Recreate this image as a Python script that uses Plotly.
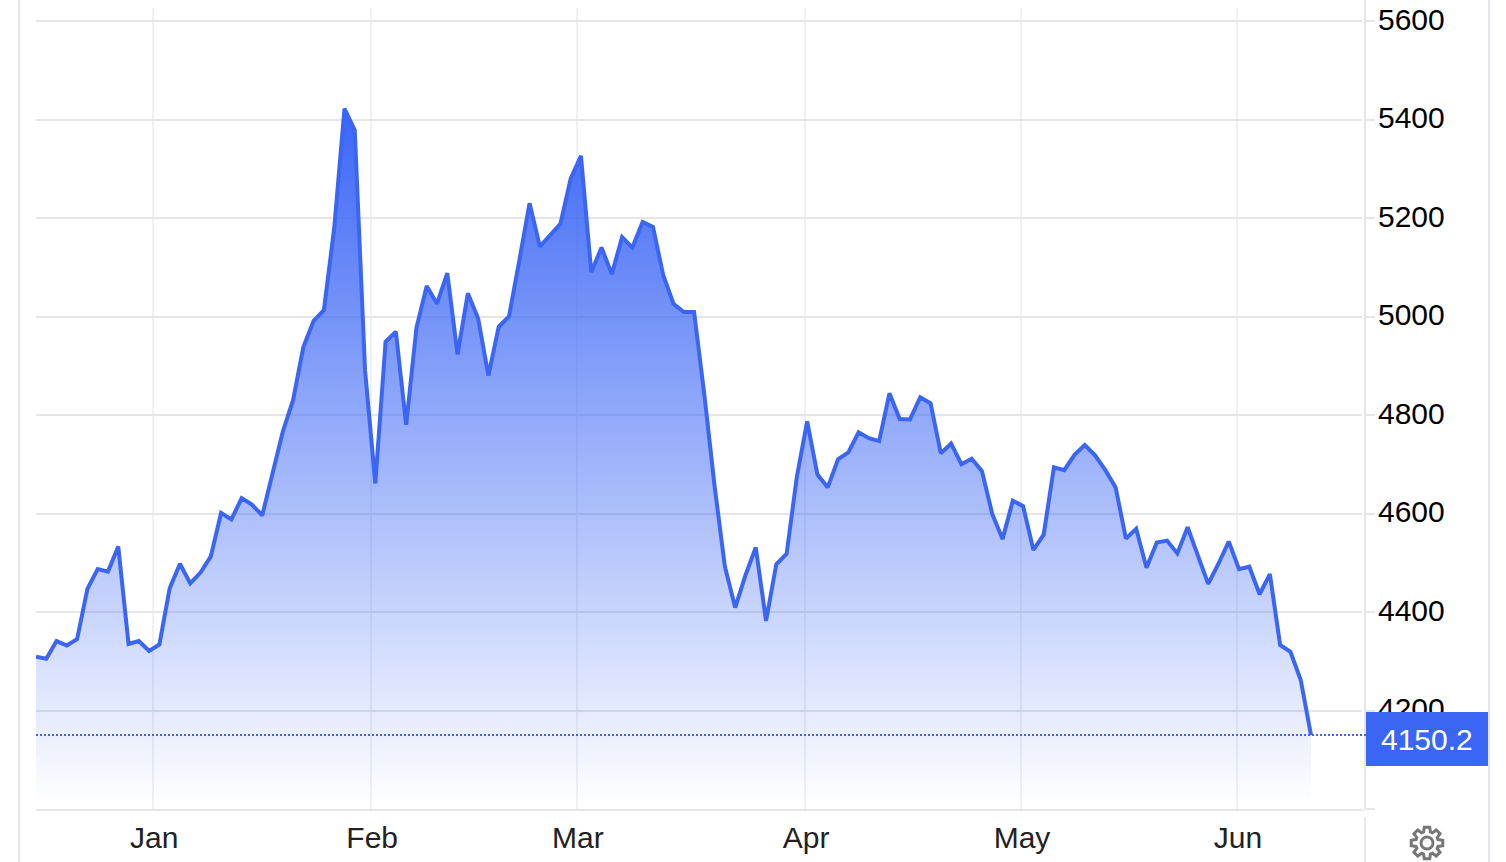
"""
plot.py
Area chart of a daily price series with a last-value tag on the right axis.
"""
import numpy as np
import plotly.graph_objects as go

WIDTH, HEIGHT = 1506, 862
LEFT, RIGHT, TOP, BOTTOM = 36, 1365, 8, 809

# ========== Data ==========
values = [
    4309, 4305, 4341, 4332, 4345, 4447, 4487, 4482, 4533, 4335,
    4341, 4321, 4334, 4448, 4498, 4458, 4480, 4513, 4601, 4588,
    4631, 4618, 4596, 4680, 4766, 4830, 4938, 4991, 5013, 5179,
    5422, 5378, 4891, 4661, 4949, 4969, 4780, 4977, 5062, 5026,
    5088, 4923, 5047, 4996, 4880, 4979, 5000, 5113, 5230, 5142,
    5165, 5188, 5280, 5326, 5090, 5140, 5086, 5161, 5140, 5192,
    5182, 5084, 5026, 5009, 5009, 4841, 4655, 4492, 4409, 4475,
    4531, 4382, 4497, 4518, 4675, 4787, 4679, 4653, 4710, 4724,
    4765, 4753, 4747, 4844, 4792, 4791, 4836, 4824, 4722, 4742,
    4700, 4711, 4686, 4599, 4548, 4626, 4615, 4526, 4557, 4694,
    4688, 4719, 4739, 4718, 4688, 4653, 4549, 4569, 4490, 4541,
    4545, 4519, 4572, 4516, 4457, 4498, 4543, 4487, 4492, 4436,
    4477, 4333, 4319, 4262, 4150.2,
]
days = list(range(len(values)))

month_labels = ['Jan', 'Feb', 'Mar', 'Apr', 'May', 'Jun']
month_days = [11.4, 32.6, 52.6, 74.8, 95.8, 116.8]

price_ticks = [4000, 4200, 4400, 4600, 4800, 5000, 5200, 5400, 5600]
price_labels = ['', '4200', '4400', '4600', '4800', '5000', '5200', '5400', '5600']

# ========== Colors ==========
BLUE = '#3b66f5'
GRID = '#e6e6e6'
VGRID = '#eef1f6'
FRAME = '#e4e4ec'


# paper coordinates are relative to the plot area, these take page pixels
def px(x):
    return (x - LEFT) / (RIGHT - LEFT)


def py(y):
    return 1 - (y - TOP) / (BOTTOM - TOP)


def vline(x, y0, y1, color, width):
    return dict(type='line', xref='paper', yref='paper', x0=px(x), x1=px(x),
                y0=py(y0), y1=py(y1), line=dict(color=color, width=width), layer='above')


def gear_path(cx, cy, r_out, r_in, teeth=8):
    pts = []
    step = 2 * np.pi / teeth
    for k in range(teeth):
        a = k * step - np.pi / 2
        for da, r in [(-0.30, r_in), (-0.17, r_out), (0.17, r_out), (0.30, r_in)]:
            pts.append((cx + r * np.cos(a + da), cy + r * np.sin(a + da)))
    return 'M ' + ' L '.join(f'{px(x):.5f},{py(y):.5f}' for x, y in pts) + ' Z'


# ========== Figure ==========
fig = go.Figure()
fig.add_trace(go.Scatter(
    x=days, y=values,
    mode='lines',
    line=dict(color=BLUE, width=4),
    fill='tozeroy',
    fillgradient=dict(
        type='vertical',
        start=4010, stop=5422,
        colorscale=[[0, 'rgba(59,102,245,0)'], [1, 'rgba(59,102,245,1)']],
    ),
    hoverinfo='skip',
    showlegend=False,
))

per_day = (1311 - LEFT) / (len(values) - 1)
per_unit = 98.5 / 200

shapes = [
    # white gap between the grid and the axis line
    dict(type='rect', xref='paper', yref='paper', x0=px(1362), x1=px(1364),
         y0=py(TOP), y1=py(BOTTOM + 1), fillcolor='white', line_width=0, layer='above'),
    vline(19, 0, HEIGHT, FRAME, 2),
    vline(1489, 0, HEIGHT, FRAME, 2),
    vline(RIGHT, 0, BOTTOM, GRID, 2),
    vline(RIGHT, 818, HEIGHT, GRID, 2),
    # last value line and tag
    dict(type='line', xref='paper', yref='y', x0=px(LEFT), x1=px(1366),
         y0=values[-1], y1=values[-1], line=dict(color=BLUE, width=2, dash='2px,2px'), layer='above'),
    dict(type='rect', xref='paper', yref='paper', x0=px(1366), x1=px(1488),
         y0=py(712), y1=py(766), fillcolor=BLUE, line_width=0, layer='above'),
    # settings icon
    dict(type='path', xref='paper', yref='paper', path=gear_path(1427, 843, 16, 11.5),
         line=dict(color='#777777', width=3), layer='above'),
    dict(type='circle', xref='paper', yref='paper', x0=px(1421), x1=px(1433),
         y0=py(837), y1=py(849), line=dict(color='#777777', width=3), layer='above'),
]

fig.update_layout(
    width=WIDTH, height=HEIGHT,
    margin=dict(l=LEFT, r=WIDTH - RIGHT, t=TOP, b=HEIGHT - BOTTOM, pad=0),
    paper_bgcolor='white', plot_bgcolor='white',
    font=dict(family='Liberation Sans, Arial, sans-serif', size=30, color='#000000'),
    shapes=shapes,
    annotations=[dict(
        xref='paper', yref='paper', x=px(1427), y=py(739),
        text=f'{values[-1]:.1f}', showarrow=False,
        font=dict(color='white', size=30), xanchor='center', yanchor='middle',
    )],
)
fig.update_xaxes(
    automargin=False,
    range=[0, (RIGHT - LEFT) / per_day],
    tickmode='array', tickvals=month_days, ticktext=month_labels,
    tickfont=dict(color='#222222', size=30),
    showgrid=True, gridcolor=VGRID, gridwidth=2,
    showline=True, linecolor=GRID, linewidth=2,
    ticks='outside', ticklen=1, tickcolor='rgba(0,0,0,0)',
    ticklabelshift=1,
    zeroline=False, fixedrange=True,
)
fig.update_yaxes(
    automargin=False,
    side='right',
    range=[4000, 4000 + (BOTTOM - TOP) / per_unit],
    tickmode='array', tickvals=price_ticks, ticktext=price_labels,
    tickfont=dict(color='#000000', size=30),
    showgrid=True, gridcolor=GRID, gridwidth=2,
    ticks='outside', ticklen=9, tickcolor=GRID, tickwidth=2,
    ticklabelstandoff=-3, ticklabelshift=-2,
    showline=False, zeroline=False, fixedrange=True,
)

fig.write_html("out.html", config={'displayModeBar': False},
               post_script="document.body.style.margin='0';")
